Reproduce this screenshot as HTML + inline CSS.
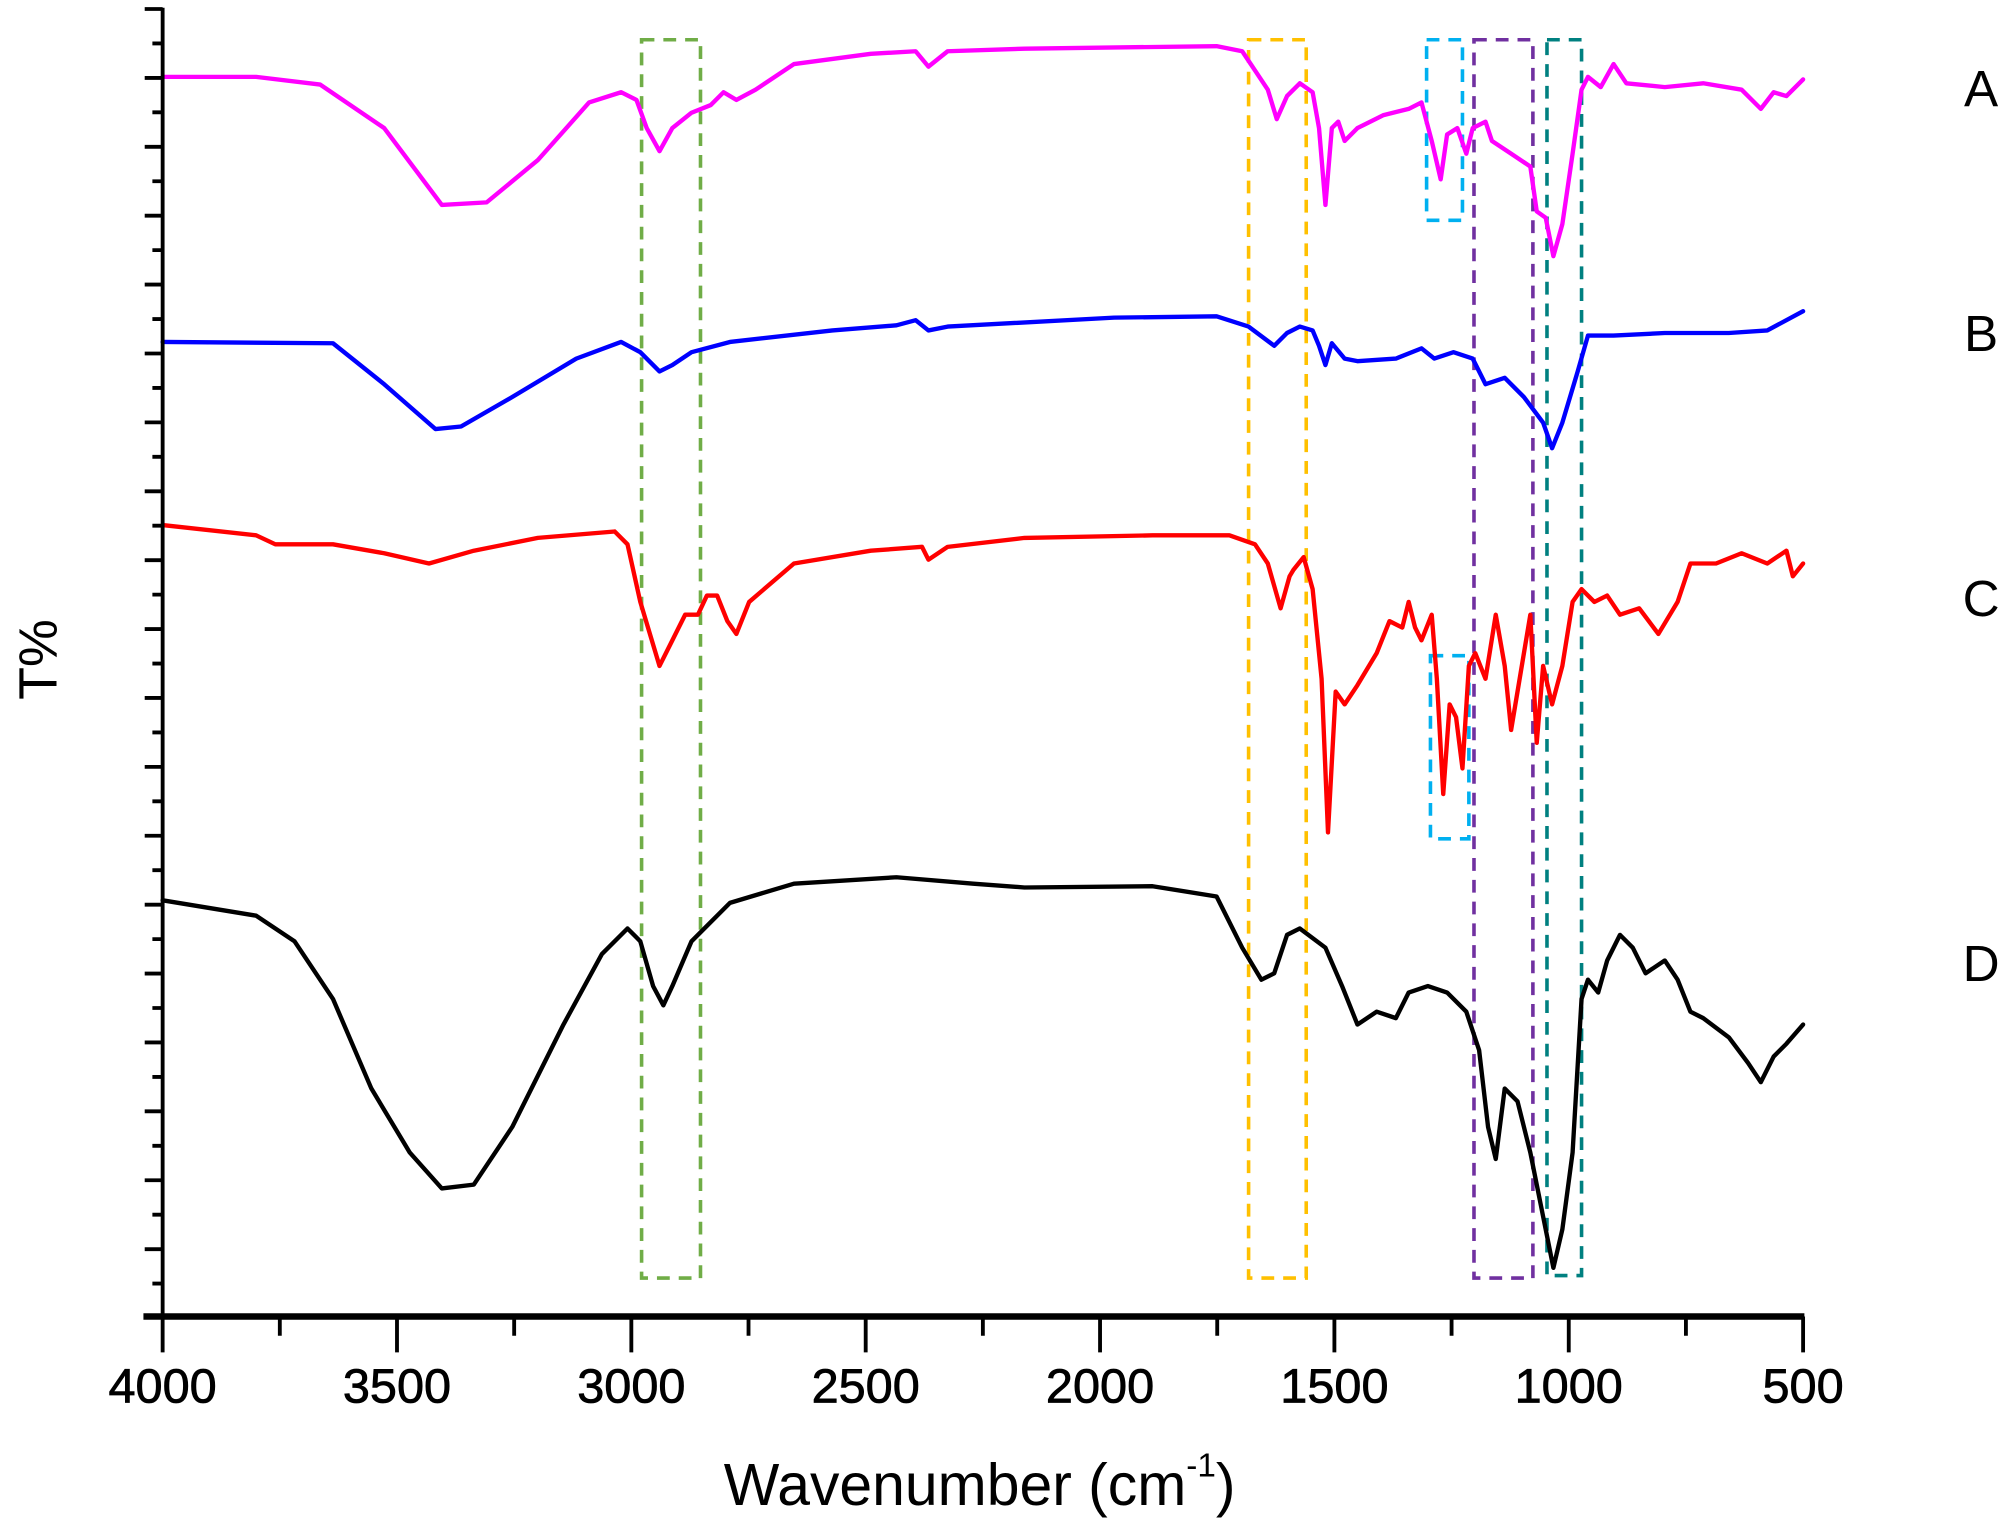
<!DOCTYPE html>
<html><head><meta charset="utf-8"><style>html,body{margin:0;padding:0;background:#fff}svg{display:block}</style></head>
<body>
<svg width="2008" height="1524" viewBox="0 0 1568 1190" xmlns="http://www.w3.org/2000/svg" font-family="Liberation Sans, Arial, sans-serif">
<g fill="none" stroke-width="2.8" stroke-dasharray="10,7">
<rect x="501" y="31" width="46" height="967" stroke="#70ad47"/>
<rect x="975" y="31" width="45" height="967" stroke="#ffc000"/>
<rect x="1114" y="31" width="28" height="141" stroke="#00b0f0"/>
<rect x="1117" y="512" width="30" height="143" stroke="#00b0f0"/>
<rect x="1151" y="31" width="46" height="967" stroke="#7030a0"/>
<rect x="1208" y="31" width="27" height="965" stroke="#008080"/>
</g>
<g fill="none" stroke-width="3.4" stroke-linejoin="round" stroke-linecap="round">
<polyline stroke="#ff00ff" points="127,60 200,60 250,66 300,100 345,160 380,158 420,125 460,80 485,72 497,78 505,100 515,118 525,100 540,88 555,82 565,72 575,78 590,70 620,50 680,42 715,40 725,52 740,40 800,38 950,36 970,40 980,55 990,70 997,93 1005,75 1015,65 1025,72 1030,100 1035,160 1040,100 1045,95 1050,110 1060,100 1080,90 1100,85 1110,80 1118,110 1125,140 1130,105 1138,100 1145,120 1150,100 1160,95 1165,110 1180,120 1195,130 1200,165 1207,170 1213,200 1220,175 1228,120 1235,70 1240,60 1250,68 1260,50 1270,65 1300,68 1330,65 1360,70 1375,85 1385,72 1395,75 1408,62"/>
<polyline stroke="#0000ff" points="127,267 260,268 300,300 340,335 360,333 400,310 450,280 485,267 500,275 515,290 525,285 540,275 570,267 650,258 700,254 715,250 725,258 740,255 870,248 950,247 975,255 995,270 1005,260 1015,255 1025,258 1030,270 1035,285 1040,268 1050,280 1060,282 1090,280 1110,272 1120,280 1135,275 1150,280 1160,300 1175,295 1190,310 1205,330 1212,350 1220,330 1232,290 1240,262 1260,262 1300,260 1350,260 1380,258 1408,243"/>
<polyline stroke="#ff0000" points="127,410 200,418 215,425 260,425 300,432 335,440 370,430 420,420 480,415 490,425 500,470 515,520 525,500 535,480 545,480 552,465 560,465 568,485 575,495 585,470 620,440 680,430 720,427 725,437 740,427 800,420 900,418 960,418 980,425 990,440 1000,475 1007,450 1010,445 1018,435 1025,460 1032,530 1037,650 1043,540 1050,550 1060,535 1075,510 1085,485 1095,490 1100,470 1105,490 1110,500 1118,480 1122,530 1127,620 1132,550 1137,560 1142,600 1147,520 1152,510 1160,530 1168,480 1175,520 1180,570 1190,510 1195,480 1200,580 1205,520 1212,550 1220,520 1228,470 1235,460 1245,470 1255,465 1265,480 1280,475 1295,495 1310,470 1320,440 1340,440 1360,432 1380,440 1395,430 1400,450 1408,440"/>
<polyline stroke="#000000" points="127,703 200,715 230,735 260,780 290,850 320,900 345,928 370,925 400,880 440,800 470,745 490,725 500,735 510,770 518,785 525,770 540,735 570,705 620,690 700,685 760,690 800,693 900,692 950,700 970,740 985,765 995,760 1005,730 1015,725 1035,740 1048,770 1060,800 1075,790 1090,795 1100,775 1115,770 1130,775 1145,790 1155,820 1162,880 1168,905 1175,850 1185,860 1195,900 1205,950 1213,990 1220,960 1228,900 1235,780 1240,765 1248,775 1255,750 1265,730 1275,740 1285,760 1300,750 1310,765 1320,790 1330,795 1350,810 1365,830 1375,845 1385,825 1395,815 1408,800"/>
</g>
<g stroke="#000" stroke-width="3" fill="none">
<line x1="127" y1="6" x2="127" y2="1029"/>
<line x1="112" y1="1028" x2="1409" y2="1028" stroke-width="5"/>
<path d="M113,7H127M119,33.9H127M113,60.8H127M119,87.7H127M113,114.6H127M119,141.5H127M113,168.4H127M119,195.3H127M113,222.2H127M119,249.1H127M113,276H127M119,302.9H127M113,329.8H127M119,356.7H127M113,383.6H127M119,410.5H127M113,437.4H127M119,464.3H127M113,491.2H127M119,518.1H127M113,545H127M119,571.9H127M113,598.8H127M119,625.7H127M113,652.6H127M119,679.5H127M113,706.4H127M119,733.3H127M113,760.2H127M119,787.1H127M113,814H127M119,840.9H127M113,867.8H127M119,894.7H127M113,921.6H127M119,948.5H127M113,975.4H127M119,1002.3H127"/>
<path d="M127,1028V1056M218.5,1028V1043M310,1028V1056M401.5,1028V1043M493,1028V1056M584.5,1028V1043M676,1028V1056M767.5,1028V1043M859,1028V1056M950.5,1028V1043M1042,1028V1056M1133.5,1028V1043M1225,1028V1056M1316.5,1028V1043M1408,1028V1056"/>
</g>
<g font-size="38" text-anchor="middle" fill="#000" stroke="#000" stroke-width="0.6">
<text x="127" y="1095">4000</text><text x="310" y="1095">3500</text><text x="493" y="1095">3000</text><text x="676" y="1095">2500</text><text x="859" y="1095">2000</text><text x="1042" y="1095">1500</text><text x="1225" y="1095">1000</text><text x="1408" y="1095">500</text>
</g>
<text x="765" y="1175" font-size="46" text-anchor="middle">Wavenumber (cm<tspan font-size="26" dy="-22">-1</tspan><tspan dy="22">)</tspan></text>
<text transform="translate(44,515) rotate(-90)" font-size="42" text-anchor="middle">T%</text>
<g font-size="40" text-anchor="middle">
<text x="1547" y="83">A</text><text x="1547" y="274">B</text><text x="1547" y="481">C</text><text x="1547" y="766">D</text>
</g>
</svg>
</body></html>
